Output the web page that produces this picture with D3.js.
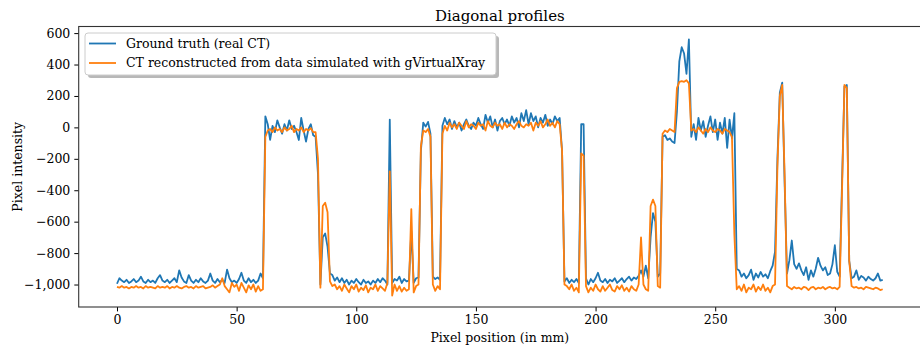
<!DOCTYPE html>
<html>
<head>
<meta charset="utf-8">
<script src="https://cdn.jsdelivr.net/npm/d3@7"></script>
<style>
  body { margin: 0; background: #fff; }
  svg { display: block; font-family: "DejaVu Serif", serif; }
</style>
</head>
<body>
<div id="chart"></div>
<script>
// profile values, one per mm, x = 0..320
const groundTruth = [
  -995, -960, -975, -985, -970, -990, -980, -965, -985, -975,
  -950, -980, -990, -970, -985, -975, -990, -960, -940, -975,
  -985, -970, -990, -975, -960, -985, -910, -955, -980, -990,
  -940, -975, -990, -970, -985, -960, -980, -990, -975, -930,
  -975, -990, -965, -985, -970, -990, -905, -960, -985, -975,
  -990, -965, -925, -975, -990, -960, -985, -970, -990, -975,
  -930, -960, 70, 20, -80, 10, -30, 45, 0, -40,
  20, -20, 45, -10, 10, -30, -80, 60, -20, -90,
  -10, 20, -50, -60, -300, -1000, -700, -675, -760, -930,
  -940, -975, -955, -985, -960, -990, -970, -1000, -975, -990,
  -965, -985, -1000, -970, -990, -980, -1000, -975, -990, -965,
  -985, -960, -975, -1000, 50, -990, -965, -975, -950, -990,
  -965, -980, -975, -660, -990, -960, -955, -150, 30, 5,
  35, -40, -950, -965, -955, -970, 10, 60, 20, 50,
  -10, 40, 0, 30, -20, 20, 50, 10, -10, 30,
  10, 60, 20, -10, 80, 30, 70, 0, 50, -20,
  40, 60, 20, 50, 10, 70, 30, 60, 0, 90,
  40, 110, 20, 90, 40, 70, 0, 60, 30, 80,
  10, 50, 20, 70, 40, 60, -150, -980, -960, -990,
  -970, -985, -965, -990, 20, 20, -960, -1000, -965, -985,
  -960, -925, -975, -985, -965, -990, -970, -980, -960, -990,
  -975, -960, -985, -965, -950, -975, -955, -965, -945, -910,
  -950, -880, -960, -700, -545, -600, -950, -930, -60, -50,
  -80, -70, -90, -100, 100, 420, 510, 470, 340, 560,
  -60, 20, -80, 60, -20, 40, -60, 10, 70, -30,
  50, -80, 30, -40, 60, -130, 50, -70, 90, -900,
  -910, -950, -930, -960, -940, -905, -970, -930, -955, -920,
  -950, -935, -960, -915, -880, -790, -200, 220, 285, -350,
  -930, -845, -720, -870, -900, -865, -910, -940, -890, -970,
  -910, -950, -900, -830, -880, -910, -890, -940, -930, -870,
  -750, -920, -950, -350, 260, 270, -850, -960, -950, -910,
  -970, -945, -955, -975, -950, -965, -975, -960, -930, -975,
  -970
];

const simulated = [
  -1015, -1020, -1010, -1020, -1015, -1025, -1015, -1020, -1010, -1020,
  -1015, -1025, -1010, -1020, -1015, -1020, -1025, -1010, -1020, -1015,
  -1020, -1010, -1025, -1015, -1020, -1010, -1020, -1025, -1015, -1010,
  -1020, -1015, -1025, -1010, -1020, -1015, -1010, -1025, -1020, -1015,
  -1005, -1020, -1010, -1000, -960, -1010, -1030, -1050, -990, -1015,
  -1000, -1040, -990, -1020, -1050, -1005, -1030, -1000, -1045, -1010,
  -1040, -1030, -60, -20, -10, -30, 0, -20, -10, -30,
  0, -20, -10, 10, -30, -10, -20, 0, -30, -10,
  -20, -5, -30, -30, -200, -1020, -500, -480, -540, -980,
  -1010, -1000, -1030, -1010, -1040, -1000, -1025, -1050, -1010, -1030,
  -1000, -1045, -1020, -1035, -1005, -1050, -1020, -1030, -1000, -1040,
  -1010, -1025, -1040, -990, -280, -1070, -1000, -1040, -1010, -1045,
  -1020, -1040, -1030, -520, -1050, -1010, -1000, -120, -20, -30,
  -10, -60, -1000, -1040, -1010, -1030, -40, 10, -20, 30,
  0, 20, -10, 30, 10, -10, 40, 0, 20, 10,
  -10, 30, 10, 20, -20, 40, 10, 0, 30, 10,
  20, -10, 30, 0, 20, 10, -10, 20, 40, 10,
  0, 20, 10, 30, -20, 30, 10, 40, 0, 20,
  50, 10, 30, 0, 40, 20, -150, -1000, -1010, -1030,
  -1000, -1040, -1020, -1050, -165, -180, -1010, -1050, -1020, -1040,
  -1000, -1030, -1045, -1010, -1040, -1020, -1000, -1035, -1045, -1010,
  -1030, -1005, -1040, -1020, -1045, -1010, -1030, -1040, -1000, -700,
  -1000, -1030, -1040, -500, -460, -500, -1010, -1020, -40, -20,
  -30, -10, -20, -30, 250, 290, 295, 290, 300, 280,
  -20, -10, -30, 0, -20, -40, -10, -30, 0, -20,
  -30, -10, -20, -40, -10, -20, -30, -60, -680, -1030,
  -1010, -1040, -1000, -1050, -1020, -1030, -1000, -1045, -1015, -1035,
  -1000, -1040, -1020, -1050, -1010, -1000, -250, 200, 270, -300,
  -1010, -1020, -1030, -1015, -1025, -1020, -1030, -1015, -1020, -1035,
  -1020, -1015, -1030, -1020, -1025, -1015, -1030, -1020, -1015, -1025,
  -1020, -1030, -1015, -400, 270, 250, -850, -1010, -1020, -1015,
  -1025, -1020, -1030, -1015, -1020, -1025, -1030, -1020, -1025, -1035,
  -1030
];

const xTicks = [0, 50, 100, 150, 200, 250, 300];
const yTicks = [-1000, -800, -600, -400, -200, 0, 200, 400, 600];
const legendLabels = ['Ground truth (real CT)', 'CT reconstructed from data simulated with gVirtualXray'];

const drawChart = () => {
  let width = 920,
    height = 352,
    plot = { left: 78.7, top: 26.5, right: 921, bottom: 307 },
    colors = ['#1f77b4', '#ff7f0e'],
    fontSize = 12.5;

  let svg = d3.select('#chart')
    .append('svg')
    .attr('width', width)
    .attr('height', height);

  let xScale = d3.scaleLinear().domain([-16, 336]).range([plot.left, plot.right]);
  let yScale = d3.scaleLinear().domain([-1143, 642]).range([plot.bottom, plot.top]);

  let series = [groundTruth, simulated];
  let line = d3.line()
    .x((d, i) => xScale(i))
    .y(d => yScale(d));

  svg.append('defs').append('clipPath').attr('id', 'clip')
    .append('rect')
    .attr('x', plot.left).attr('y', plot.top)
    .attr('width', plot.right - plot.left).attr('height', plot.bottom - plot.top);

  // the two profiles, simulated on top
  svg.append('g')
    .attr('clip-path', 'url(#clip)')
    .selectAll('path')
    .data(series)
    .enter()
    .append('path')
    .attr('d', d => line(d))
    .attr('fill', 'none')
    .attr('stroke', (d, i) => colors[i])
    .attr('stroke-width', 1.8)
    .attr('stroke-linejoin', 'round');

  // axes
  let xAxis = d3.axisBottom(xScale).tickValues(xTicks).tickSizeOuter(0).tickSize(4.4).tickPadding(4);
  let yAxis = d3.axisLeft(yScale).tickValues(yTicks).tickSizeOuter(0).tickSize(4.4).tickPadding(4);

  let gx = svg.append('g')
    .attr('transform', `translate(0,${plot.bottom})`)
    .call(xAxis);
  let gy = svg.append('g')
    .attr('transform', `translate(${plot.left},0)`)
    .call(yAxis);

  [gx, gy].forEach(g => {
    g.select('.domain').remove();
    g.selectAll('.tick line').attr('stroke', '#000').attr('stroke-width', 1);
    g.selectAll('.tick text')
      .attr('fill', '#000')
      .style('font-family', '"DejaVu Serif", serif')
      .style('font-size', fontSize + 'px');
  });

  // frame
  svg.append('rect')
    .attr('x', plot.left)
    .attr('y', plot.top)
    .attr('width', plot.right - plot.left)
    .attr('height', plot.bottom - plot.top)
    .attr('fill', 'none')
    .attr('stroke', '#333')
    .attr('stroke-width', 1.1);

  // labels
  svg.append('text')
    .attr('x', (plot.left + plot.right) / 2)
    .attr('y', 21)
    .attr('text-anchor', 'middle')
    .style('font-size', '15px')
    .text('Diagonal profiles');

  svg.append('text')
    .attr('x', (plot.left + plot.right) / 2)
    .attr('y', 342)
    .attr('text-anchor', 'middle')
    .style('font-size', fontSize + 'px')
    .text('Pixel position (in mm)');

  svg.append('text')
    .attr('transform', `translate(22,${(plot.top + plot.bottom) / 2}) rotate(-90)`)
    .attr('text-anchor', 'middle')
    .style('font-size', fontSize + 'px')
    .text('Pixel intensity');

  // legend with shadow
  let legend = svg.append('g').attr('transform', 'translate(85,33)');
  let lw = 411, lh = 42;
  legend.append('rect')
    .attr('x', 3).attr('y', 3)
    .attr('width', lw).attr('height', lh)
    .attr('rx', 3)
    .attr('fill', '#888')
    .attr('opacity', 0.6);
  legend.append('rect')
    .attr('width', lw).attr('height', lh)
    .attr('rx', 3)
    .attr('fill', '#fff')
    .attr('stroke', '#ccc')
    .attr('stroke-width', 1);

  let rows = legend.selectAll('.row')
    .data(legendLabels)
    .enter()
    .append('g')
    .attr('transform', (d, i) => `translate(0,${10.5 + i * 19.5})`);
  rows.append('line')
    .attr('x1', 4).attr('x2', 31)
    .attr('stroke', (d, i) => colors[i])
    .attr('stroke-width', 1.8);
  rows.append('text')
    .attr('x', 41)
    .attr('dy', '0.35em')
    .style('font-size', fontSize + 'px')
    .text(d => d);
}

drawChart();
</script>
</body>
</html>
